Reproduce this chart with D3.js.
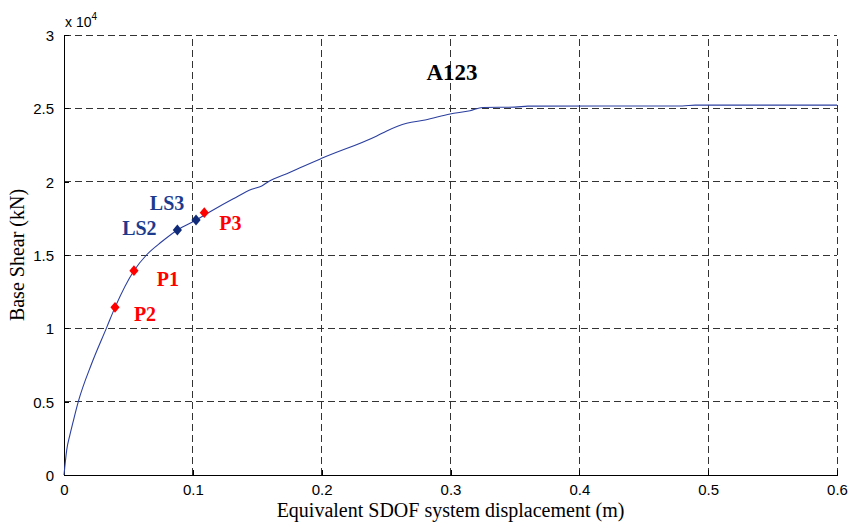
<!DOCTYPE html>
<html>
<head>
<meta charset="utf-8">
<script src="https://cdn.jsdelivr.net/npm/d3@7/dist/d3.min.js"></script>
<style>
  html, body { margin: 0; padding: 0; background: #ffffff; }
  svg { display: block; }
</style>
</head>
<body>
<svg id="chart" width="849" height="527"></svg>
<script>
// Pushover capacity curve (equivalent SDOF), displacement in m, base shear in kN
const displacement = [0, 0.0021, 0.0045, 0.007, 0.0111, 0.0215, 0.0331, 0.0396, 0.0543,
  0.064, 0.0758, 0.088, 0.1025, 0.1134, 0.1314, 0.1457, 0.1535, 0.1586, 0.1755, 0.1832, 0.2,
  0.2428, 0.2505, 0.266, 0.2803, 0.2997, 0.3152, 0.325, 0.35, 0.36, 0.48, 0.49, 0.6];
const baseShear = [0, 1700, 2700, 3600, 5000, 7600, 10050, 11430, 13930,
  15000, 15900, 16705, 17386, 17950, 18830, 19480, 19705, 20000, 20640, 20950, 21590,
  23120, 23455, 23977, 24205, 24614, 24840, 25060, 25080, 25150, 25160, 25220, 25220];

// Performance points and limit states marked on the curve
const pointNames = ["P2", "P1", "LS2", "LS3", "P3"];
const pointGroups = ["P", "P", "LS", "LS", "P"];
const pointDisp = [0.0396, 0.0543, 0.088, 0.1025, 0.1089];
const pointShear = [11430, 13930, 16705, 17386, 17886];

// Axis ticks
const xTicks = [0, 0.1, 0.2, 0.3, 0.4, 0.5, 0.6];
const xTickLabels = ["0", "0.1", "0.2", "0.3", "0.4", "0.5", "0.6"];
const yTicks = [0, 5000, 10000, 15000, 20000, 25000, 30000];
const yTickLabels = ["0", "0.5", "1", "1.5", "2", "2.5", "3"];

const chartTitle = "A123";
const xLabel = "Equivalent SDOF system displacement (m)";
const yLabel = "Base Shear (kN)";

// ---- layout & styles ----
const W = 849, H = 527;
const margin = { left: 64, right: 12, top: 35, bottom: 52 };
const sansFont = "'Liberation Sans', Arial, sans-serif";
const serifFont = "'Liberation Serif', 'Times New Roman', serif";
const groupColor = { P: "#ff0000", LS: "#0f2a78" };
const groupTextColor = { P: "#ff0000", LS: "#1c3a8e" };
// text offset (dx, dy of baseline) relative to each marker
const labelOffsets = [[30, 14], [34, 15], [-38, 5.5], [-29, -10], [26, 17]];

const svg = d3.select("#chart");
const x = d3.scaleLinear().domain([0, 0.6]).range([margin.left, W - margin.right]);
const y = d3.scaleLinear().domain([0, 30000]).range([H - margin.bottom, margin.top]);

const x0 = x(0), y0 = y(0), x1 = x(0.6), y1 = y(30000);

// dashed grid
const grid = svg.append("g").attr("stroke", "#333333").attr("stroke-width", 1)
  .attr("stroke-dasharray", "7,4").attr("shape-rendering", "crispEdges");
grid.selectAll("line.gx").data(xTicks.filter(d => d > 0)).join("line")
  .attr("x1", d => x(d)).attr("x2", d => x(d)).attr("y1", y0).attr("y2", y1);
grid.selectAll("line.gy").data(yTicks.filter(d => d > 0)).join("line")
  .attr("y1", d => y(d)).attr("y2", d => y(d)).attr("x1", x0).attr("x2", x1);

// axes with inward ticks
const xAxis = d3.axisBottom(x).tickValues(xTicks).tickSizeInner(-5).tickSizeOuter(0)
  .tickPadding(9).tickFormat((d, i) => xTickLabels[i]);
const yAxis = d3.axisLeft(y).tickValues(yTicks).tickSizeInner(-5).tickSizeOuter(0)
  .tickPadding(10).tickFormat((d, i) => yTickLabels[i]);

const gx = svg.append("g").attr("transform", `translate(0,${y0})`).call(xAxis);
const gy = svg.append("g").attr("transform", `translate(${x0},0)`).call(yAxis);
[gx, gy].forEach(g => {
  g.select(".domain").attr("stroke", "#000").attr("shape-rendering", "crispEdges");
  g.selectAll(".tick line").attr("stroke", "#000").attr("shape-rendering", "crispEdges");
  g.selectAll(".tick text").attr("fill", "#000").style("font-family", sansFont).style("font-size", "15px");
});
gy.selectAll(".tick text").attr("dy", "0.36em");

// exponent note above the y axis
const expo = svg.append("text").attr("x", x0 + 1).attr("y", 27)
  .style("font-family", sansFont).style("font-size", "14px").attr("fill", "#000");
expo.append("tspan").text("x 10");
expo.append("tspan").attr("dy", -7).style("font-size", "10px").text("4");

// capacity curve
const line = d3.line().x(d => x(d[0])).y(d => y(d[1])).curve(d3.curveMonotoneX);
svg.append("path")
  .datum(displacement.map((d, i) => [d, baseShear[i]]))
  .attr("d", line).attr("fill", "none")
  .attr("stroke", "#2b3f9f").attr("stroke-width", 1.1);

// diamond markers
const pts = pointNames.map((n, i) => ({ name: n, group: pointGroups[i], d: pointDisp[i], v: pointShear[i], off: labelOffsets[i] }));
const diamond = (cx, cy, hw, hh) => `M${cx},${cy - hh}L${cx + hw},${cy}L${cx},${cy + hh}L${cx - hw},${cy}Z`;
svg.append("g").selectAll("path").data(pts).join("path")
  .attr("d", p => diamond(x(p.d), y(p.v), 4.6, 5.4))
  .attr("fill", p => groupColor[p.group]);

svg.append("g").selectAll("text").data(pts).join("text")
  .attr("x", p => x(p.d) + p.off[0]).attr("y", p => y(p.v) + p.off[1])
  .attr("text-anchor", "middle")
  .style("font-family", serifFont).style("font-size", "20px").style("font-weight", "bold")
  .attr("fill", p => groupTextColor[p.group])
  .text(p => p.name);

// title
svg.append("text").attr("x", 452).attr("y", 80).attr("text-anchor", "middle")
  .style("font-family", serifFont).style("font-size", "23px").style("font-weight", "bold")
  .attr("fill", "#000").text(chartTitle);

// axis titles
svg.append("text").attr("x", (x0 + x1) / 2).attr("y", 517).attr("text-anchor", "middle")
  .style("font-family", serifFont).style("font-size", "20px").attr("fill", "#000").text(xLabel);
svg.append("text").attr("transform", `translate(24,${(y0 + y1) / 2}) rotate(-90)`)
  .attr("text-anchor", "middle")
  .style("font-family", serifFont).style("font-size", "20px").attr("fill", "#000").text(yLabel);
</script>
</body>
</html>
